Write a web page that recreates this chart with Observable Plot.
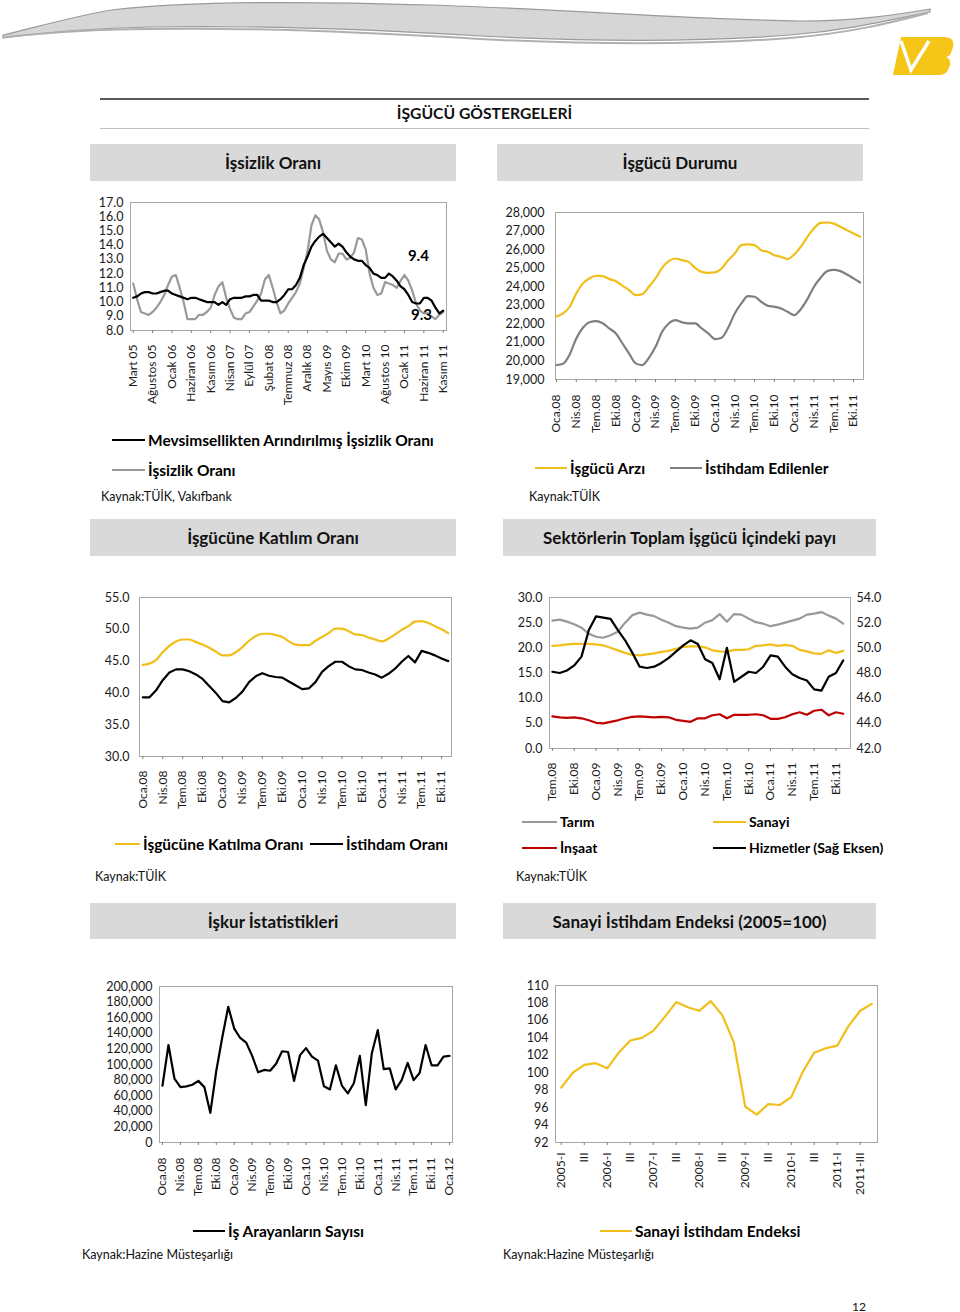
<!DOCTYPE html>
<html><head><meta charset="utf-8">
<script src="https://cdn.jsdelivr.net/npm/d3@7"></script>
<script src="https://cdn.jsdelivr.net/npm/@observablehq/plot@0.6"></script>
<style>
body{margin:0;background:#fff;}
#page{position:relative;width:960px;height:1312px;font-family:Lato,"Open Sans",sans-serif;color:#111;overflow:hidden;background:#fff}
.box{position:absolute;background:#d9d9d9;display:flex;align-items:center;justify-content:center;font-weight:700;font-size:17px;color:#111}
.leg{position:absolute;font-weight:700;font-size:15.5px;line-height:18px;white-space:nowrap;transform:translateY(-50%);color:#000}
.leg.small{font-size:14px}
.sw{position:absolute;height:0;border-top-style:solid;border-top-width:2px}
.src{position:absolute;font-size:12.5px;white-space:nowrap;transform:translateY(-50%);color:#111}
.chart{position:absolute}
</style></head>
<body><div id="page">
<svg width="960" height="90" style="position:absolute;left:0;top:0">
  <path d="M3,35 C40,26 80,15 112,10 C180,2 300,1 430,5 C560,9 700,20 800,21 C860,21 900,14 930,9 L930,12 C890,20 850,30 790,35 C700,42 600,42 480,36 C380,30 260,25 150,27 C90,28 40,33 3,38 Z" fill="#d6d6d6" stroke="#9a9a9a" stroke-width="1.2"/>
  <path d="M5,37 C45,33 95,29 150,29 C260,27 380,33 480,39 C600,45 700,45 790,38 C850,33 890,23 928,13" fill="none" stroke="#b0b0b0" stroke-width="2"/>
  <path d="M901,37 L944,37 Q955,37 953,47 L951,53 Q950,56 946,57 Q951,59 950,65 L948,70 Q946,75 938,75 L893,75 Z" fill="#f5c518"/>
  <path d="M901,41 L911,70 L929,41" fill="none" stroke="#fff" stroke-width="3.5"/>
</svg>
</div>
<script>
// ---------- DATA ----------
// Panel 1: İşsizlik Oranı (monthly, Mart 05 .. Kasım 11)
const p1Labels = ["Mart 05","Ağustos 05","Ocak 06","Haziran 06","Kasım 06","Nisan 07","Eylül 07","Şubat 08","Temmuz 08","Aralık 08","Mayıs 09","Ekim 09","Mart 10","Ağustos 10","Ocak 11","Haziran 11","Kasım 11"];
const p1Adjusted = [10.3,10.4,10.6,10.7,10.7,10.6,10.6,10.7,10.8,10.8,
 10.6,10.5,10.4,10.3,10.2,10.3,10.3,10.2,10.1,10.0,
 10.0,10.0,9.8,10.0,9.8,10.2,10.3,10.3,10.3,10.4,
 10.4,10.5,10.5,10.1,10.1,10.1,10.0,10.0,10.2,10.5,
 10.9,10.9,11.2,11.7,12.6,13.2,13.9,14.3,14.6,14.8,
 14.5,14.2,13.9,14.1,13.9,13.5,13.2,13.0,12.9,12.9,
 12.6,12.4,12.0,11.9,11.7,11.7,12.0,11.8,11.5,11.1,
 10.9,10.5,10.0,9.9,9.9,10.3,10.3,10.1,9.6,9.2,
 9.4];
const p1Rate = [11.3,10.2,9.3,9.2,9.1,9.3,9.6,10.0,10.5,11.2,
 11.8,11.9,11.0,10.0,8.8,8.8,8.8,9.1,9.1,9.3,
 9.6,10.5,11.1,11.4,10.3,9.5,8.9,8.8,8.8,9.2,
 9.3,9.7,10.1,10.6,11.6,11.9,11.0,10.0,9.2,9.4,
 9.9,10.3,10.7,11.3,12.4,13.6,15.4,16.1,15.8,14.9,
 13.6,13.0,12.8,13.4,13.4,13.0,13.1,13.5,14.5,14.4,
 13.7,12.0,11.0,10.5,10.6,11.4,11.3,11.2,11.0,11.5,
 11.9,11.5,10.8,9.9,9.4,9.2,9.2,9.0,8.8,9.1,
 9.3];
const p1Notes = [{label:"9.4", i:73.6, v:13.2},{label:"9.3", i:74.4, v:9.1}];

// Panel 2: İşgücü Durumu (monthly, Oca.08 .. Kas.11, thousand persons)
const qLabels08 = ["Oca.08","Nis.08","Tem.08","Eki.08","Oca.09","Nis.09","Tem.09","Eki.09","Oca.10","Nis.10","Tem.10","Eki.10","Oca.11","Nis.11","Tem.11","Eki.11"];
const p2LaborForce = [22400,22560,22920,23640,24180,24450,24590,24570,24410,24300,
 24050,23820,23550,23600,24000,24450,25020,25380,25520,25430,
 25340,25020,24800,24750,24770,24980,25430,25790,26240,26280,
 26240,25970,25880,25700,25610,25490,25740,26150,26690,27140,
 27440,27460,27400,27230,27050,26870,26690];
const p2Employed = [19780,19850,20350,21210,21790,22080,22150,22030,21750,21480,
 20940,20400,19870,19780,20170,20760,21570,22020,22200,22080,
 22020,22020,21750,21480,21180,21250,21790,22560,23100,23490,
 23460,23190,22970,22920,22830,22650,22470,22790,23330,24000,
 24480,24840,24910,24840,24660,24450,24230];

// Panel 3: İşgücüne Katılım Oranı (%)
const p3Participation = [44.4,44.6,45.2,46.4,47.4,48.1,48.4,48.4,48.0,47.6,
 47.1,46.5,45.9,45.9,46.4,47.2,48.2,48.9,49.3,49.3,
 49.1,48.8,48.1,47.6,47.5,47.5,48.2,48.8,49.4,50.1,
 50.1,49.7,49.2,49.1,48.7,48.4,48.1,48.5,49.2,49.9,
 50.5,51.2,51.3,51.0,50.5,50.0,49.4];
const p3Employment = [39.3,39.3,40.4,42.0,43.2,43.7,43.7,43.4,42.9,42.2,
 41.1,40.0,38.7,38.5,39.2,40.2,41.7,42.6,43.1,42.7,
 42.5,42.4,41.8,41.2,40.6,40.7,41.7,43.3,44.2,44.9,
 44.9,44.2,43.7,43.6,43.2,42.9,42.4,43.0,43.8,44.9,
 45.8,44.8,46.6,46.3,45.9,45.4,45.0];

// Panel 4: Sektörlerin payı (%), Tem.08 ..
const p4Labels = ["Tem.08","Eki.08","Oca.09","Nis.09","Tem.09","Eki.09","Oca.10","Nis.10","Tem.10","Eki.10","Oca.11","Nis.11","Tem.11","Eki.11"];
const p4Agriculture = [25.4,25.6,25.2,24.7,24.0,22.8,22.2,22.0,22.5,23.2,
 25.0,26.5,27.0,26.6,26.3,25.6,25.0,24.3,24.0,23.8,
 24.0,25.0,25.5,26.7,25.2,26.7,26.6,25.8,25.1,24.8,
 24.3,24.6,25.0,25.4,25.8,26.6,26.8,27.1,26.4,25.8,
 24.8];
const p4Industry = [20.4,20.5,20.7,20.8,20.8,20.8,20.7,20.5,20.0,19.5,
 19.0,18.6,18.5,18.7,18.9,19.2,19.4,19.8,20.2,20.3,
 20.3,20.1,19.5,19.3,19.2,19.6,19.6,19.7,20.4,20.5,
 20.7,20.4,20.6,20.4,19.6,19.3,18.9,18.8,19.5,19.0,
 19.4];
const p4Construction = [6.4,6.2,6.1,6.2,6.0,5.6,5.1,5.0,5.3,5.6,
 6.0,6.3,6.4,6.3,6.2,6.3,6.2,5.7,5.5,5.3,
 6.0,6.0,6.6,6.8,6.0,6.7,6.7,6.7,6.8,6.6,
 5.9,5.9,6.2,6.8,7.2,6.7,7.5,7.7,6.6,7.2,
 6.9];
const p4Services = [48.1,48.0,48.2,48.6,49.3,51.4,52.5,52.4,52.3,51.4,
 50.6,49.6,48.5,48.4,48.5,48.8,49.2,49.7,50.2,50.6,
 50.3,49.1,48.8,47.5,50.0,47.3,47.7,48.1,48.0,48.5,
 49.4,49.3,48.5,47.9,47.6,47.4,46.7,46.6,47.7,48.0,
 49.0];

// Panel 5: İşkur – İş arayanların sayısı (Oca.08 .. Oca.12)
const p5Labels = [...qLabels08, "Oca.12"];
const p5JobSeekers = [73000,125000,82000,71000,72000,74000,79000,71000,38000,92000,
 135000,174000,146000,134000,128000,111000,90000,93000,92000,101000,
 117000,116000,79000,112000,121000,110000,105000,72000,68000,99000,
 73000,63000,76000,111000,48000,114000,144000,94000,95000,68000,
 80000,102000,80000,89000,125000,99000,99000,110000,111000];

// Panel 6: Sanayi İstihdam Endeksi (2005=100), quarterly 2005-I .. 2011-IV
const p6Labels = ["2005-I","III","2006-I","III","2007-I","III","2008-I","III","2009-I","III","2010-I","III","2011-I","2011-III"];
const p6Index = [98.3,100.0,100.9,101.1,100.5,102.3,103.7,104.0,104.8,106.4,
 108.1,107.5,107.1,108.2,106.6,103.5,96.1,95.2,96.4,96.3,
 97.2,100.1,102.3,102.8,103.1,105.4,107.1,107.9];

// ---------- COLOURS ----------
const YELLOW = "#f0bf1a", LGRAY = "#999999", DGRAY = "#7f7f7f", BLACK = "#000000", RED = "#c00000";

const page = document.getElementById("page");
function el(tag, cls, style, html) {
  const e = document.createElement(tag);
  if (cls) e.className = cls;
  Object.assign(e.style, style);
  if (html != null) e.innerHTML = html;
  page.appendChild(e);
  return e;
}
const range = (a, b, s) => d3.range(a, b + s / 2, s);

function chart({frame, ml = 70, mr = 10, mb = 75, xDomain, yDomain, yTicks, yFmt, yPad, xLabels, xStep, xPad, extraAxes = [], marks}) {
  const [fl, fr, ft, fb] = frame;
  const mt = 10;
  const width = ml + (fr - fl) + mr;
  const height = mt + (fb - ft) + mb;
  const svg = Plot.plot({
    width, height, marginLeft: ml, marginRight: mr, marginTop: mt, marginBottom: mb,
    style: {fontFamily: "Lato, sans-serif", fontSize: "12px", color: "#1a1a1a", background: "transparent", overflow: "visible"},
    x: {domain: xDomain},
    y: {domain: yDomain},
    marks: [
      Plot.frame({stroke: "#a6a6a6"}),
      Plot.axisY({ticks: yTicks, tickFormat: yFmt, tickSize: 0, tickPadding: yPad, label: null, fontSize: 12.5}),
      ...extraAxes,
      Plot.axisX({ticks: xLabels.map((_, k) => k * xStep), tickFormat: i => xLabels[Math.round(i / xStep)], tickRotate: -90, tickSize: 3, tickPadding: xPad, label: null, stroke: "#808080", fontSize: 12}),
      ...marks
    ]
  });
  const div = el("div", "chart", {left: (fl - ml) + "px", top: (ft - mt) + "px"});
  div.appendChild(svg);
}

// ---------- TITLE ----------
el("div", null, {position: "absolute", left: "100px", top: "98px", width: "769px", borderTop: "2px solid #595959"});
el("div", null, {position: "absolute", left: "100px", top: "113px", width: "769px", textAlign: "center", fontWeight: "700", fontSize: "15.7px", transform: "translateY(-50%)"}, "İŞGÜCÜ GÖSTERGELERİ");
el("div", null, {position: "absolute", left: "100px", top: "128px", width: "769px", borderTop: "1px solid #bfbfbf"});

// ---------- SECTION BOXES ----------
const boxes = [
  ["İşsizlik Oranı", 90, 144, 366, 37],
  ["İşgücü Durumu", 497, 144, 366, 37],
  ["İşgücüne Katılım Oranı", 90, 519, 366, 37],
  ["Sektörlerin Toplam İşgücü İçindeki payı", 503, 519, 373, 37],
  ["İşkur İstatistikleri", 90, 903, 366, 36],
  ["Sanayi İstihdam Endeksi (2005=100)", 503, 903, 373, 36]
];
boxes.forEach(([t, x, y, w, h]) => el("div", "box", {left: x + "px", top: y + "px", width: w + "px", height: h + "px"}, t));

// ---------- LEGEND helper ----------
function legend(x1, x2, y, color, text, small) {
  el("div", "sw", {left: x1 + "px", top: (y - 1) + "px", width: (x2 - x1) + "px", borderTopColor: color});
  el("div", small ? "leg small" : "leg", {left: (x2 + 3) + "px", top: y + "px"}, text);
}
function source(x, y, text) { el("div", "src", {left: x + "px", top: y + "px"}, text); }

// ---------- PANEL 1 ----------
chart({
  frame: [130, 446, 202, 330], xDomain: [-0.7, 80.85], yDomain: [8, 17],
  yTicks: range(8, 17, 1), yFmt: d => d.toFixed(1), yPad: 7,
  xLabels: p1Labels, xStep: 5, xPad: 11,
  marks: [
    Plot.lineY(p1Rate, {stroke: LGRAY, strokeWidth: 2.2, strokeLinejoin: "round"}),
    Plot.lineY(p1Adjusted, {stroke: BLACK, strokeWidth: 2.2, strokeLinejoin: "round"}),
    Plot.text(p1Notes, {x: "i", y: "v", text: "label", fontSize: 15, fontWeight: 700, fill: "#000"})
  ]
});
legend(112, 145, 440, BLACK, "Mevsimsellikten Arındırılmış İşsizlik Oranı");
legend(112, 145, 470, LGRAY, "İşsizlik Oranı");
source(101, 496, "Kaynak:TÜİK, Vakıfbank");

// ---------- PANEL 2 ----------
chart({
  frame: [555, 863, 212, 379], mb: 62, xDomain: [-0.15, 46.5], yDomain: [19000, 28000],
  yTicks: range(19000, 28000, 1000), yFmt: d3.format(","), yPad: 11,
  xLabels: qLabels08, xStep: 3, xPad: 12,
  marks: [
    Plot.lineY(p2LaborForce, {stroke: YELLOW, strokeWidth: 2.2, curve: "monotone-x"}),
    Plot.lineY(p2Employed, {stroke: DGRAY, strokeWidth: 2.2, curve: "monotone-x"})
  ]
});
legend(535, 567, 468, YELLOW, "İşgücü Arzı");
legend(670, 702, 468, DGRAY, "İstihdam Edilenler");
source(529, 496, "Kaynak:TÜİK");

// ---------- PANEL 3 ----------
chart({
  frame: [139, 451, 597, 756], mb: 62, xDomain: [-0.5, 46.5], yDomain: [30, 55],
  yTicks: range(30, 55, 5), yFmt: d => d.toFixed(1), yPad: 10,
  xLabels: qLabels08, xStep: 3, xPad: 11,
  marks: [
    Plot.lineY(p3Participation, {stroke: YELLOW, strokeWidth: 2.2, curve: "monotone-x"}),
    Plot.lineY(p3Employment, {stroke: BLACK, strokeWidth: 2.2, strokeLinejoin: "round"})
  ]
});
legend(115, 140, 844, YELLOW, "İşgücüne Katılma Oranı");
legend(310, 343, 844, BLACK, "İstihdam Oranı");
source(95, 876, "Kaynak:TÜİK");

// ---------- PANEL 4 ----------
const toLeft = d => (d - 42) / 12 * 30;
chart({
  frame: [549, 850, 597, 748], mr: 45, mb: 62, xDomain: [-0.4, 41], yDomain: [0, 30],
  yTicks: range(0, 30, 5), yFmt: d => d.toFixed(1), yPad: 7,
  xLabels: p4Labels, xStep: 3, xPad: 11,
  extraAxes: [Plot.axisY({anchor: "right", ticks: range(0, 30, 5), tickFormat: t => (42 + t * 0.4).toFixed(1), tickSize: 0, tickPadding: 6, label: null, fontSize: 12.5})],
  marks: [
    Plot.lineY(p4Agriculture, {stroke: LGRAY, strokeWidth: 2.2, strokeLinejoin: "round"}),
    Plot.lineY(p4Industry, {stroke: YELLOW, strokeWidth: 2.2, strokeLinejoin: "round"}),
    Plot.lineY(p4Construction, {stroke: RED, strokeWidth: 2.2, strokeLinejoin: "round"}),
    Plot.lineY(p4Services, {y: toLeft, stroke: BLACK, strokeWidth: 2.2, strokeLinejoin: "round"})
  ]
});
legend(522, 557, 822, LGRAY, "Tarım", true);
legend(713, 746, 822, YELLOW, "Sanayi", true);
legend(522, 557, 848, RED, "İnşaat", true);
legend(713, 746, 848, BLACK, "Hizmetler (Sağ Eksen)", true);
source(516, 876, "Kaynak:TÜİK");

// ---------- PANEL 5 ----------
chart({
  frame: [159, 452, 986, 1142], xDomain: [-0.5, 48.5], yDomain: [0, 200000],
  yTicks: range(0, 200000, 20000), yFmt: d3.format(","), yPad: 7,
  xLabels: p5Labels, xStep: 3, xPad: 12,
  marks: [
    Plot.lineY(p5JobSeekers, {stroke: BLACK, strokeWidth: 2.2, strokeLinejoin: "round"})
  ]
});
legend(193, 225, 1231, BLACK, "İş Arayanların Sayısı");
source(82, 1254, "Kaynak:Hazine Müsteşarlığı");

// ---------- PANEL 6 ----------
chart({
  frame: [555, 877, 985, 1142], xDomain: [-0.5, 27.5], yDomain: [92, 110],
  yTicks: range(92, 110, 2), yFmt: d => String(d), yPad: 7,
  xLabels: p6Labels, xStep: 2, xPad: 7,
  marks: [
    Plot.lineY(p6Index, {stroke: YELLOW, strokeWidth: 2.2, strokeLinejoin: "round"})
  ]
});
legend(600, 632, 1231, YELLOW, "Sanayi İstihdam Endeksi");
source(503, 1254, "Kaynak:Hazine Müsteşarlığı");

// page number
el("div", null, {position: "absolute", left: "852px", top: "1306px", fontSize: "12px", transform: "translateY(-50%)"}, "12");
</script>
</body></html>
